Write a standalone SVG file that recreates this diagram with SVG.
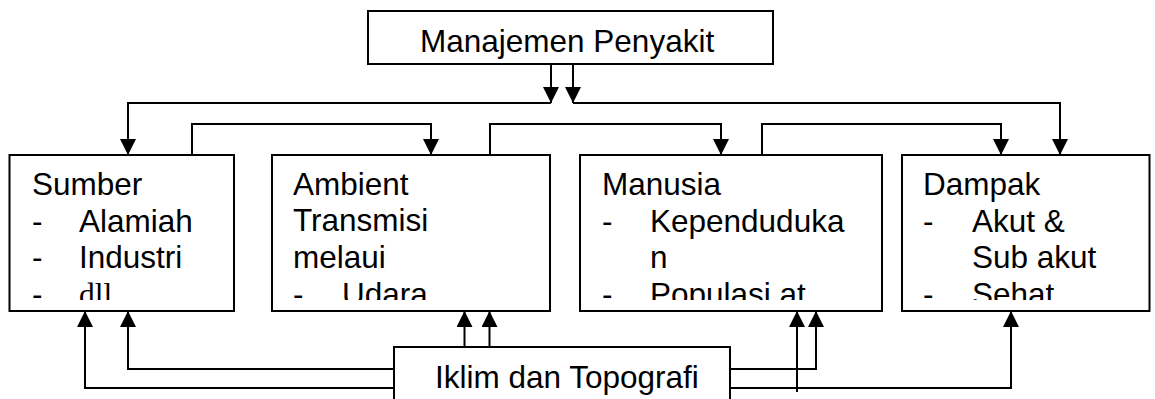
<svg xmlns="http://www.w3.org/2000/svg" width="1155" height="399" viewBox="0 0 1155 399">
  <style>
    .box { fill: #ffffff; stroke: #000000; stroke-width: 2; }
    .t { font-family: "Liberation Sans", Arial, sans-serif; font-size: 31.5px; fill: #000000; }
    .s { font-family: "Liberation Serif", "Times New Roman", serif; font-size: 31.5px; fill: #000000; }
    .c { fill: none; stroke: #000000; stroke-width: 2; marker-end: url(#ah); }
    .cl { fill: none; stroke: #000000; stroke-width: 2; }
  </style>
  <defs>
    <marker id="ah" markerUnits="userSpaceOnUse" markerWidth="16" markerHeight="16" refX="16" refY="8" orient="auto" viewBox="0 0 16 16">
      <path d="M0,0 L16,8 L0,16 z" fill="#000000"/>
    </marker>
    <clipPath id="c1"><rect x="10" y="160" width="223" height="140"/></clipPath>
    <clipPath id="c2"><rect x="273" y="160" width="276" height="140"/></clipPath>
    <clipPath id="c3"><rect x="581" y="160" width="300" height="140"/></clipPath>
    <clipPath id="c4"><rect x="903" y="160" width="245" height="140"/></clipPath>
  </defs>
  <rect width="1155" height="399" fill="#ffffff"/>

  <g id="manajemen">
    <rect class="box" x="368" y="11" width="405" height="53"/>
    <text class="t" x="420" y="51.5">Manajemen Penyakit</text>
  </g>

  <g id="sumber">
    <rect class="box" x="9.5" y="155" width="224.5" height="156"/>
    <g clip-path="url(#c1)">
      <text class="t" x="32" y="195">Sumber</text>
      <text class="t" x="32" y="232">-</text>
      <text class="t" x="79" y="232">Alamiah</text>
      <text class="t" x="32" y="268">-</text>
      <text class="t" x="79" y="268">Industri</text>
      <text class="t" x="32" y="305">-</text>
      <text class="s" x="79" y="305">dll</text>
    </g>
  </g>

  <g id="ambient">
    <rect class="box" x="272" y="155" width="278" height="156"/>
    <g clip-path="url(#c2)">
      <text class="t" x="293" y="194.5">Ambient</text>
      <text class="t" x="293" y="231">Transmisi</text>
      <text class="t" x="293" y="268">melaui</text>
      <text class="t" x="293" y="305">-</text>
      <text class="t" x="342" y="305">Udara</text>
    </g>
  </g>

  <g id="manusia">
    <rect class="box" x="580" y="155" width="302" height="156"/>
    <g clip-path="url(#c3)">
      <text class="t" x="602" y="195">Manusia</text>
      <text class="t" x="602" y="232">-</text>
      <text class="t" x="650" y="232">Kependuduka</text>
      <text class="t" x="650" y="268">n</text>
      <text class="t" x="602" y="305">-</text>
      <text class="t" x="650" y="305">Populasi at</text>
    </g>
  </g>

  <g id="dampak">
    <rect class="box" x="902" y="155" width="247.5" height="156"/>
    <g clip-path="url(#c4)">
      <text class="t" x="923" y="195">Dampak</text>
      <text class="t" x="923" y="232">-</text>
      <text class="t" x="972" y="232">Akut &amp;</text>
      <text class="t" x="972" y="268">Sub akut</text>
      <text class="t" x="923" y="305">-</text>
      <text class="t" x="972" y="305">Sehat</text>
    </g>
  </g>

  <g id="iklim">
    <rect class="box" x="394" y="347" width="336" height="70"/>
    <text class="t" x="435" y="387.5">Iklim dan Topografi</text>
  </g>

  <g id="connectors">
    <path class="c" d="M551,64 V103"/>
    <path class="c" d="M573,64 V103"/>
    <path class="c" d="M551,103 H128 V155"/>
    <path class="c" d="M573,103 H1060 V155"/>
    <path class="c" d="M192,155 V124 H431 V155"/>
    <path class="c" d="M490,155 V124 H721 V155"/>
    <path class="c" d="M762,155 V124 H1001 V155"/>
    <path class="c" d="M394,388 H85 V311"/>
    <path class="c" d="M394,369 H128 V311"/>
    <path class="c" d="M464.5,347 V311"/>
    <path class="c" d="M489.5,347 V311"/>
    <path class="c" d="M730,369 H816 V311"/>
    <path class="c" d="M797,392 V311"/>
    <path class="c" d="M730,388 H1011 V311"/>
  </g>
</svg>
